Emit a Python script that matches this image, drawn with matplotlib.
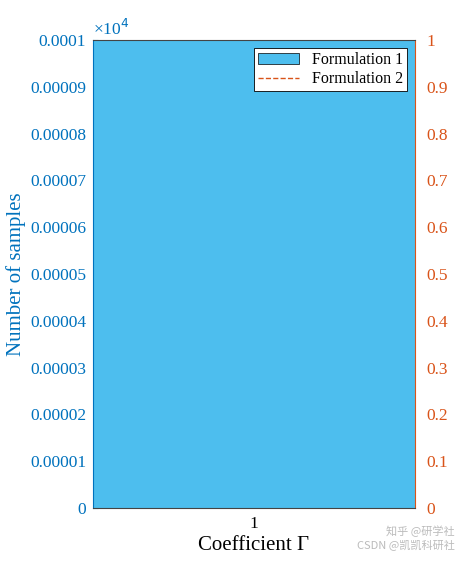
import matplotlib
matplotlib.use("Agg")
import matplotlib.pyplot as plt
from matplotlib.patches import Patch
from matplotlib.lines import Line2D

plt.rcParams['font.family'] = ['Liberation Serif', 'DejaVu Serif']

categories = [1]
counts = [0.0001]
left_ticks = [0, 0.00001, 0.00002, 0.00003, 0.00004, 0.00005, 0.00006, 0.00007, 0.00008, 0.00009, 0.0001]
left_labels = ['0', '0.00001', '0.00002', '0.00003', '0.00004', '0.00005', '0.00006', '0.00007', '0.00008', '0.00009', '0.0001']
right_ticks = [0, 0.1, 0.2, 0.3, 0.4, 0.5, 0.6, 0.7, 0.8, 0.9, 1]
right_labels = ['0', '0.1', '0.2', '0.3', '0.4', '0.5', '0.6', '0.7', '0.8', '0.9', '1']

blue = '#4DBEEE'
lc = '#0072BD'
rc = '#D95319'

fig = plt.figure(figsize=(4.74, 5.70), dpi=100)
ax = fig.add_axes([93/474, 1-508/570, 322/474, 468/570])
ax.set_axisbelow(True)
ax.bar(categories, counts, width=1.0, color=blue, edgecolor='none', zorder=2)
ax.set_xlim(0.5, 1.5)
ax.set_ylim(0, 0.0001)
ax.set_xticks([1])
ax.set_xticklabels(['1'])
ax.set_yticks(left_ticks)
ax.set_yticklabels(left_labels)
ax.tick_params(axis='y', colors=lc, labelsize=12.5, direction='in', pad=5)
ax.tick_params(axis='x', labelsize=12.5, direction='in', pad=6)
ax.set_ylabel('Number of samples', color=lc, fontsize=15, labelpad=3)
ax.set_xlabel('Coefficient Γ', fontsize=15, labelpad=3)
ax.text(0, 1.003, '×10$^4$', transform=ax.transAxes, color=lc, fontsize=12.5, va='bottom')
for s in ax.spines.values():
    s.set_visible(False)

ax2 = ax.twinx()
ax2.set_ylim(0, 1)
ax2.set_yticks(right_ticks)
ax2.set_yticklabels(right_labels)
ax2.tick_params(axis='y', colors=rc, labelsize=12.5, length=0, pad=8)
ax2.spines['left'].set_color(lc)
ax2.spines['right'].set_color(rc)
ax2.spines['top'].set_color('#444444')
ax2.spines['bottom'].set_color('#444444')

handles = [Patch(facecolor=blue, edgecolor='black', linewidth=0.5),
           Line2D([0], [0], color=rc, linestyle='--', linewidth=1)]
leg = ax2.legend(handles, ['Formulation 1', 'Formulation 2'], loc='upper right',
                 fontsize=11.5, fancybox=False, edgecolor='black', framealpha=1,
                 borderaxespad=0.5, handlelength=2.6, borderpad=0.25, labelspacing=0.2)
leg.get_frame().set_linewidth(0.6)

fig.text(0.96, 0.035, '知乎 @研学社\nCSDN @凯凯科研社', ha='right', va='bottom',
         fontsize=8, color='#bbbbbb', family=['Noto Sans CJK SC', 'DejaVu Sans'])

fig.savefig('out.png', dpi=100)
